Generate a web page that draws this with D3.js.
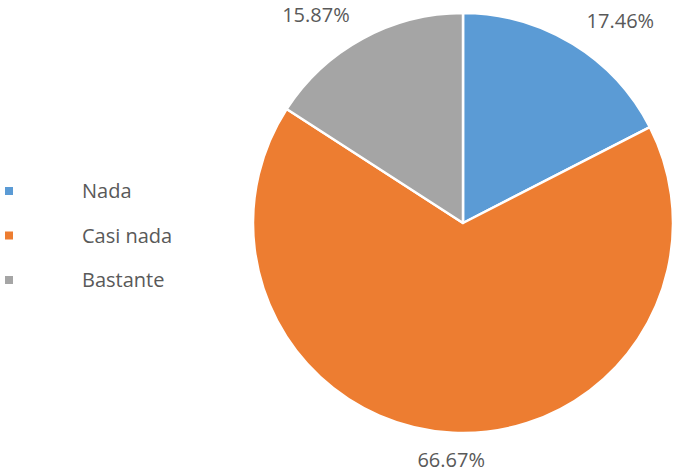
<!DOCTYPE html>
<html>
<head>
<meta charset="utf-8">
<script src="https://cdn.jsdelivr.net/npm/d3@7"></script>
<style>
  body { margin: 0; background: #fff; }
  svg { display: block; }
  text { font-family: 'Open Sans', sans-serif; fill: #595959; }
</style>
</head>
<body>
<div id="chart"></div>
<script>
// data
const categories = ['Nada', 'Casi nada', 'Bastante'];
const percents = [17.46, 66.67, 15.87];
const colorsList = ['#5B9BD5', '#ED7D31', '#A5A5A5'];

const width = 675;
const height = 472;
const cx = 463;
const cy = 223;
const radius = 210;

const data = categories.map((c, i) => ({ name: c, value: percents[i] }));

const svg = d3
  .select('#chart')
  .append('svg')
  .attr('width', width)
  .attr('height', height);

const colors = d3.scaleOrdinal().domain(categories).range(colorsList);

const pie = d3.pie().sort(null).value((d) => d.value);
const arcs = pie(data);

const arc = d3.arc().innerRadius(0).outerRadius(radius);
const labelArc = d3.arc().innerRadius(237).outerRadius(237);

const g = svg.append('g').attr('transform', `translate(${cx}, ${cy})`);

g.selectAll('.slice')
  .data(arcs)
  .join('path')
  .attr('class', 'slice')
  .attr('d', arc)
  .attr('fill', (d) => colors(d.data.name))
  .attr('stroke', '#fff')
  .attr('stroke-width', 2.5)
  .attr('stroke-linejoin', 'round');

// labels outside the pie
g.selectAll('.label')
  .data(arcs)
  .join('text')
  .attr('class', 'label')
  .attr('transform', (d) => `translate(${labelArc.centroid(d)})`)
  .attr('dy', '0.35em')
  .attr('text-anchor', (d) => {
    const mid = (d.startAngle + d.endAngle) / 2;
    const s = Math.sin(mid);
    if (Math.abs(s) < 0.3) return 'middle';
    return s > 0 ? 'start' : 'end';
  })
  .style('font-size', '20px')
  .text((d) => `${d.data.value.toFixed(2)}%`);

// legend
const legendY = d3.scalePoint(categories, [191, 280]);

const legend = svg.append('g').attr('class', 'legend');
legend
  .selectAll('rect')
  .data(categories)
  .join('rect')
  .attr('x', 5)
  .attr('y', (d) => legendY(d) - 4)
  .attr('width', 8)
  .attr('height', 8)
  .attr('fill', (d) => colors(d));
legend
  .selectAll('text')
  .data(categories)
  .join('text')
  .attr('x', 82)
  .attr('y', (d) => legendY(d))
  .attr('dy', '0.35em')
  .style('font-size', '20px')
  .text((d) => d);
</script>
</body>
</html>
